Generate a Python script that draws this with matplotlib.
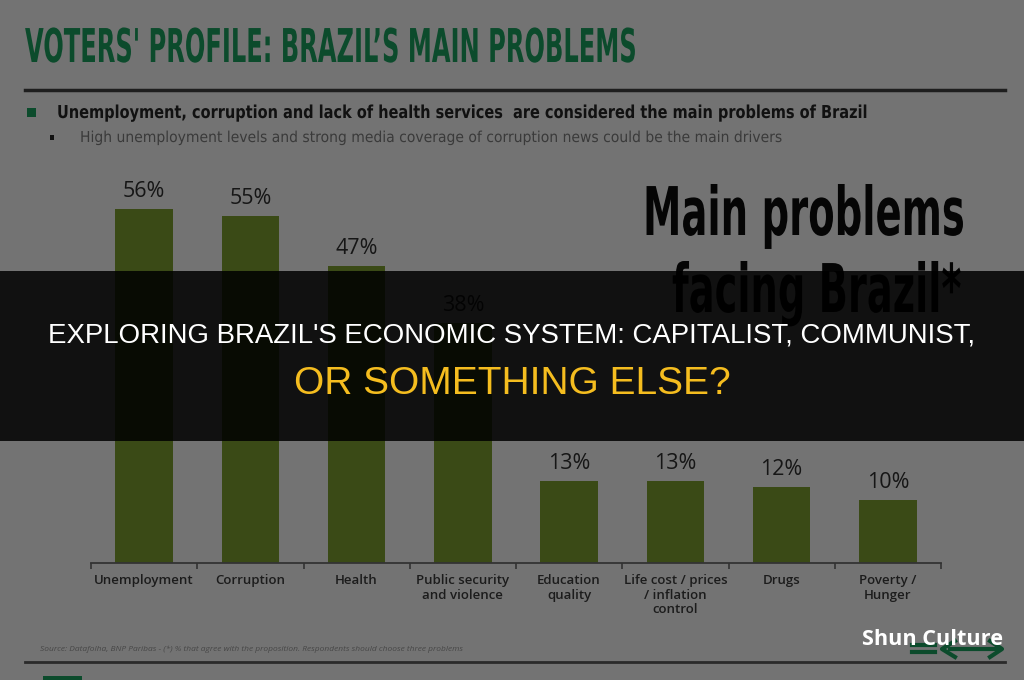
import matplotlib
matplotlib.use("Agg")
import matplotlib.pyplot as plt
from matplotlib.patches import Rectangle
from matplotlib.lines import Line2D
from matplotlib.patheffects import AbstractPathEffect
from matplotlib.transforms import Affine2D

# ---------------- data ----------------
categories = ["Unemployment", "Corruption", "Health", "Public security\nand violence",
              "Education\nquality", "Life cost / prices\n/ inflation\ncontrol", "Drugs",
              "Poverty /\nHunger"]
values = [56, 55, 47, 38, 13, 13, 12, 10]
value_labels = [f"{v}%" for v in values]

title = "VOTERS' PROFILE: BRAZIL\u2019S MAIN PROBLEMS"
bullet1 = "Unemployment, corruption and lack of health services  are considered the main problems of Brazil"
bullet2 = "High unemployment levels and strong media coverage of corruption news could be the main drivers"
big1 = "Main problems"
big2 = "facing Brazil*"
source = "Source: Datafolha, BNP Paribas - (*) % that agree with the proposition. Respondents should choose three problems"
banner1 = "EXPLORING BRAZIL'S ECONOMIC SYSTEM: CAPITALIST, COMMUNIST,"
banner2 = "OR SOMETHING ELSE?"
brand = "Shun Culture"

# ---------------- style ----------------
W, H = 1024, 680
BG = "#737373"
BAR = "#3a4a16"
GREEN = "#0c4b2c"

fig = plt.figure(figsize=(W / 100, H / 100), dpi=100, facecolor=BG)
renderer = fig.canvas.get_renderer()


def fx(x):
    return x / W


def fy(y):
    return 1 - y / H


class Tall(AbstractPathEffect):
    """Draw the text path stretched vertically about its baseline (condensed look)."""

    def __init__(self, sy, y0):
        super().__init__()
        self.sy, self.y0 = sy, y0

    def draw_path(self, renderer, gc, tpath, affine, rgbFace=None):
        a = affine + Affine2D().translate(0, -self.y0).scale(1, self.sy).translate(0, self.y0)
        renderer.draw_path(gc, tpath, a, rgbFace)


def fit_text(x0, x1, y, s, size=20, **kw):
    t = fig.text(fx(x0), fy(y), s, fontsize=size, ha="left", va="baseline", **kw)
    w = t.get_window_extent(renderer).width
    t.set_fontsize(size * (x1 - x0) / w)
    return t


def narrow_text(x0, x1, y, s, cap_px, cap_ratio=0.73, **kw):
    t = fit_text(x0, x1, y, s, **kw)
    cap_now = cap_ratio * t.get_fontsize() * 100 / 72
    t.set_path_effects([Tall(cap_px / cap_now, H - y)])
    return t


# ---------------- header ----------------
narrow_text(25, 635, 62, title, 34, color=GREEN, family="DejaVu Sans", weight="bold")
fig.add_artist(Line2D([fx(25), fx(1005)], [fy(90), fy(90)], color="#1e1e1e", lw=2.5))
fig.add_artist(Rectangle((fx(27), fy(117)), 9 / W, 9 / H, color=GREEN, lw=0))
narrow_text(57, 868, 118, bullet1, 13, color="#111111", family="DejaVu Sans", weight="bold")
fig.add_artist(Rectangle((fx(50), fy(140)), 4 / W, 5 / H, color="#111111", lw=0))
narrow_text(80, 782, 142, bullet2, 11, color="#3a3a3a", family="DejaVu Sans")

narrow_text(643, 965, 235, big1, 49, color="#050505", family="DejaVu Sans", weight="bold")
narrow_text(672, 962, 312, big2, 49, color="#050505", family="DejaVu Sans", weight="bold")

# ---------------- bar chart ----------------
ax = fig.add_axes([fx(91), fy(563), 850 / W, 379 / H])
ax.set_facecolor("none")
x = list(range(len(categories)))
ax.bar(x, values, width=0.54, color=BAR, zorder=2)
for xi, v, lab in zip(x, values, value_labels):
    ax.annotate(lab, (xi, v), xytext=(0, 5), textcoords="offset points",
                ha="center", va="bottom", fontsize=15.5, color="#161616",
                family="Open Sans")
ax.set_xlim(-0.5, len(categories) - 0.5)
ax.set_ylim(0, 60)
for s in ["top", "right", "left"]:
    ax.spines[s].set_visible(False)
ax.spines["bottom"].set_color("#333333")
ax.spines["bottom"].set_linewidth(1.3)
ax.set_yticks([])
ax.set_xticks(x)
ax.set_xticklabels(categories, fontsize=9.5, color="#1c1c1c", family="Open Sans",
                   weight="semibold", linespacing=1.15, va="top")
ax.tick_params(axis="x", which="major", length=0, pad=8)
ax.set_xticks([i - 0.5 for i in range(len(categories) + 1)], minor=True)
ax.tick_params(axis="x", which="minor", length=4, width=1.2, color="#333333", direction="out")

# ---------------- footer ----------------
fit_text(40, 468, 651, source, size=6, color="#474747", style="italic", family="Open Sans")
fig.add_artist(Line2D([fx(25), fx(1005)], [fy(662), fy(662)], color="#2a2a2a", lw=2))
fig.add_artist(Rectangle((fx(43), fy(680)), 39 / W, 4 / H, color=GREEN, lw=0))
for yy in (645, 652):
    fig.add_artist(Line2D([fx(912), fx(935)], [fy(yy), fy(yy)], color=GREEN, lw=3))
fig.add_artist(Line2D([fx(955), fx(942), fx(955)], [fy(641), fy(649), fy(657)], color=GREEN, lw=3))
fig.add_artist(Line2D([fx(950), fx(1000)], [fy(649), fy(649)], color=GREEN, lw=3))
fig.add_artist(Line2D([fx(990), fx(1002), fx(990)], [fy(641), fy(649), fy(657)], color=GREEN, lw=3))
bt = fit_text(862, 1003, 645, brand, size=17, color="white", weight="bold", family="Open Sans")
bt.set_zorder(12)

# ---------------- banner overlay ----------------
fig.add_artist(Rectangle((0, fy(441)), 1, 170 / H, transform=fig.transFigure,
                         color="black", alpha=0.85, lw=0, zorder=10))
t1 = fig.text(0.5, fy(342), banner1, ha="center", va="baseline", color="white",
              fontsize=18, family="Liberation Sans", zorder=11)
w1 = t1.get_window_extent(renderer).width
t1.set_fontsize(18 * 927 / w1)
t2 = fig.text(0.5, fy(394), banner2, ha="center", va="baseline", color="#f5bd1f",
              fontsize=27, family="Liberation Sans", zorder=11)
w2 = t2.get_window_extent(renderer).width
t2.set_fontsize(27 * 437 / w2)

fig.savefig("out.png", dpi=100, facecolor=BG)
